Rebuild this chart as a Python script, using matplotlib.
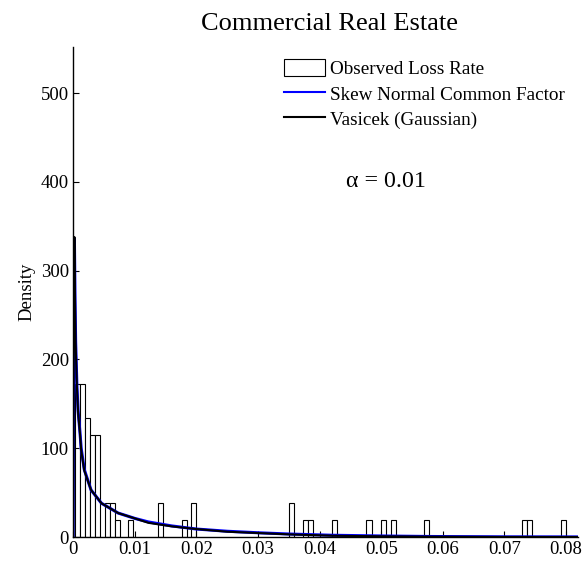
import matplotlib
matplotlib.use("Agg")
import matplotlib.pyplot as plt
from matplotlib.patches import Patch
from matplotlib.lines import Line2D

plt.rcParams['font.family'] = ['Liberation Serif', 'DejaVu Serif']

# Observed loss-rate histogram: bin left edges and densities
bin_width = 0.00082
bin_left = [0.00034, 0.00115, 0.00196, 0.00278, 0.00359, 0.00511, 0.00593,
            0.00674, 0.00894, 0.01372, 0.01773, 0.01912, 0.03503, 0.03735,
            0.03817, 0.04206, 0.04761, 0.04992, 0.05154, 0.05700, 0.07281,
            0.07362, 0.07914]
density = [172, 172, 134, 115, 115, 38, 38, 19, 19, 38, 19, 38, 38, 19,
           19, 19, 19, 19, 19, 19, 19, 19, 19]

# Fitted densities
fit_x = [0.0, 0.0001, 0.0002, 0.0003, 0.0004, 0.0006, 0.0008, 0.0011,
         0.0013, 0.0018, 0.0029, 0.0046, 0.0073, 0.0100, 0.0122, 0.0160,
         0.0200, 0.0250, 0.0300, 0.0350, 0.0420, 0.0500, 0.0580, 0.0700,
         0.0820]
skew_normal = [0, 260, 336, 270, 220, 172, 142, 118, 100, 76, 53, 38, 27,
               21, 17, 12.5, 9, 6.5, 4.8, 3.4, 2.0, 1.2, 0.6, 0.2, 0.1]
vasicek = [0, 255, 338, 268, 218, 170, 140, 117, 98, 75, 53, 38, 27, 21,
           16, 12, 9, 6, 4.5, 3.0, 1.5, 0.8, 0.4, 0.1, 0.05]

fig = plt.figure(figsize=(5.84, 5.66), dpi=100)
ax = fig.add_axes([0.1253, 0.0512, 0.8650, 0.8657])

ax.bar(bin_left, density, width=bin_width, align='edge',
       facecolor='white', edgecolor='black', linewidth=0.8, zorder=1)
ax.plot(fit_x, skew_normal, color='#0000ff', lw=2.2, zorder=2)
ax.plot(fit_x, vasicek, color='black', lw=1.5, zorder=3)

ax.set_xlim(0, 0.082)
ax.set_ylim(0, 552)
ax.set_xticks([0, 0.01, 0.02, 0.03, 0.04, 0.05, 0.06, 0.07, 0.08])
ax.set_xticklabels(['0', '0.01', '0.02', '0.03', '0.04', '0.05', '0.06',
                    '0.07', '0.08'])
ax.set_yticks([0, 100, 200, 300, 400, 500])
ax.tick_params(direction='in', length=4, width=0.8, labelsize=13.5, pad=3)
for s in ['top', 'right']:
    ax.spines[s].set_visible(False)
for s in ['left', 'bottom']:
    ax.spines[s].set_linewidth(1.0)

ax.set_ylabel('Density', fontsize=13.5, labelpad=4)
ax.set_title('Commercial Real Estate', fontsize=19, pad=12, x=0.507)

ax.text(0.0508, 400, 'α = 0.01', fontsize=17.2, ha='center', va='center')

handles = [Patch(facecolor='white', edgecolor='black', linewidth=0.8),
           Line2D([], [], color='#0000ff', lw=1.5),
           Line2D([], [], color='black', lw=1.5)]
labels = ['Observed Loss Rate', 'Skew Normal Common Factor',
          'Vasicek (Gaussian)']
ax.legend(handles, labels, loc='upper right', bbox_to_anchor=(1.0, 1.002),
          frameon=False, fontsize=13.8, handlelength=2.14, handleheight=0.95,
          handletextpad=0.26, labelspacing=0.33, borderaxespad=0.3)

fig.savefig('out.png', dpi=100)
